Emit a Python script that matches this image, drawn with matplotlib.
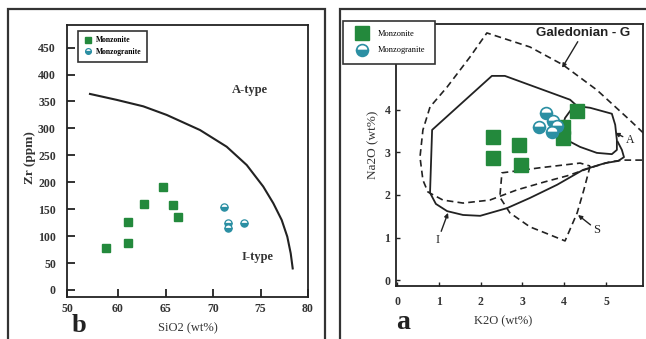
import matplotlib
matplotlib.use("Agg")
import matplotlib.pyplot as plt
from matplotlib.patches import Rectangle

W, H = 646, 339
plt.rcParams['font.family'] = ['Liberation Serif', 'DejaVu Serif']

# ---------------- panel b : Zr vs SiO2 ----------------
monz_sio2 = [58.7, 61.05, 61.05, 62.7, 64.7, 65.8, 66.3]
monz_zr = [78, 87, 126, 159, 191, 157, 135]
mgr_sio2 = [71.2, 71.6, 71.6, 73.3]
mgr_zr = [154, 125, 115, 124]
boundary_sio2 = [57.05, 59.86, 62.66, 65.13, 68.63, 71.44, 73.55, 75.29,
                 76.35, 77.23, 77.82, 78.18, 78.39]
boundary_zr = [364, 353, 341, 325, 297, 266, 232, 192, 161, 130, 99, 68, 40]
zr_ticks = [0, 50, 100, 150, 200, 250, 300, 350, 400, 450]
sio2_tick_values = [54.63, 60, 65, 70, 75, 80]
sio2_tick_labels = ["50", "60", "65", "70", "75", "80"]

# ---------------- panel a : Na2O vs K2O ----------------
monz_k2o = [2.30, 2.30, 2.92, 2.97, 4.31, 3.97, 3.97]
monz_na2o = [3.36, 2.87, 3.18, 2.71, 3.98, 3.60, 3.34]
mgr_k2o = [3.56, 3.73, 3.40, 3.71, 3.83]
mgr_na2o = [3.93, 3.74, 3.60, 3.48, 3.62]

i_k2o = [4.31, 4.14, 2.58, 2.27, 0.84, 0.79, 0.93, 1.20, 1.58, 1.99, 2.63,
         3.18, 3.83, 4.45, 4.98, 5.29, 5.43, 5.38, 5.28]
i_na2o = [4.09, 4.24, 4.80, 4.80, 3.53, 2.05, 1.79, 1.62, 1.53, 1.51, 1.69,
          1.93, 2.24, 2.59, 2.75, 2.80, 2.89, 3.06, 3.25]
a_k2o = [4.31, 4.62, 5.14, 5.22, 5.26, 5.26, 5.14, 4.78, 4.38, 3.97, 3.95,
         4.02, 4.16, 4.31]
a_na2o = [4.09, 4.05, 3.91, 3.65, 3.29, 3.06, 2.96, 2.99, 3.13, 3.34, 3.58,
          3.81, 4.00, 4.09]
g_k2o = [5.89, 5.57, 4.78, 3.97, 3.18, 2.15, 1.75, 1.20, 0.79, 0.62, 0.55,
         0.62, 0.74, 1.10, 1.58, 2.22, 2.87, 3.54, 4.07, 4.69, 5.10, 5.41, 5.89]
g_na2o = [3.46, 3.76, 4.47, 5.06, 5.48, 5.81, 5.25, 4.54, 4.07, 3.53, 2.89,
          2.35, 2.07, 1.88, 1.81, 1.88, 2.12, 2.31, 2.45, 2.66, 2.78, 2.82, 2.82]
s_k2o = [4.62, 4.47, 4.31, 4.02, 3.54, 3.18, 2.70, 2.46, 2.51, 3.42, 4.38, 4.62]
s_na2o = [2.68, 2.12, 1.58, 0.92, 1.11, 1.25, 1.58, 1.95, 2.52, 2.64, 2.75, 2.68]
na2o_ticks = [0, 1, 2, 3, 4]
k2o_ticks = [0, 1, 2, 3, 4, 5]

GREEN = '#23893c'
TEAL = '#2b8fa3'
DARK = '#222222'

fig = plt.figure(figsize=(W / 100, H / 100), dpi=100)


def fbox(l, t, r, b):
    return [l / W, 1 - b / H, (r - l) / W, (b - t) / H]


# outer frames
for (l, t, r, b) in [(8, 9, 325, 360), (340, 9, 680, 360)]:
    fig.add_artist(Rectangle((l / W, 1 - b / H), (r - l) / W, (b - t) / H,
                             transform=fig.transFigure, fill=False,
                             edgecolor='#333333', linewidth=1.6))

# ---------- left axes ----------
axb = fig.add_axes(fbox(67, 25, 308, 297))
axb.plot(boundary_sio2, boundary_zr, color=DARK, lw=1.5)
axb.plot(monz_sio2, monz_zr, 's', color=GREEN, ms=5.8, mec=GREEN,
         label='Monzonite', linestyle='none')
axb.plot(mgr_sio2, mgr_zr, 'o', ms=5.2, fillstyle='bottom', color=TEAL,
         markerfacecoloralt='white', mec=TEAL, mew=0.9, label='Monzogranite',
         linestyle='none')
axb.set_xlim(54.63, 80)
axb.set_ylim(-13, 492)
axb.set_yticks(zr_ticks)
axb.set_xticks(sio2_tick_values)
axb.set_xticklabels(sio2_tick_labels)
axb.tick_params(direction='in', length=6, width=1.3, labelsize=8.5, color=DARK)
axb.tick_params(axis='y', pad=8)
axb.tick_params(axis='x', pad=4)
for lab in axb.get_xticklabels() + axb.get_yticklabels():
    lab.set_fontweight('bold')
    lab.set_color('#333333')
for s in axb.spines.values():
    s.set_linewidth(1.3)
    s.set_color(DARK)
axb.text(73.9, 372, 'A-type', fontsize=9, fontweight='bold', ha='center',
         va='center', color='#333333')
axb.text(74.7, 61, 'I-type', fontsize=9, fontweight='bold', ha='center',
         va='center', color='#333333')
legb = axb.legend(loc='upper left', bbox_to_anchor=(78 / W, 1 - 31 / H),
                  bbox_transform=fig.transFigure, frameon=True,
                  fancybox=False, framealpha=1, edgecolor='#333333',
                  borderpad=0.7, labelspacing=0.5, handlelength=1.2,
                  handletextpad=0.5, borderaxespad=0, markerscale=0.8,
                  prop={'weight': 'bold', 'size': 5.5})
legb.get_frame().set_linewidth(1.2)

fig.text(30 / W, 1 - 158 / H, 'Zr (ppm)', rotation=90, fontsize=9.5,
         fontweight='bold', ha='center', va='center', color='#333333')
fig.text(188 / W, 1 - 328 / H, 'SiO2 (wt%)', fontsize=9, ha='center',
         va='center', color='#333333')
fig.text(79 / W, 1 - 332 / H, 'b', fontsize=19, fontweight='bold',
         ha='center', va='baseline', color='#222222')

# ---------- right axes ----------
axa = fig.add_axes(fbox(396, 24, 643, 286))
axa.plot(g_k2o, g_na2o, color=DARK, lw=1.2, ls=(0, (4, 2.5)))
axa.plot(s_k2o, s_na2o, color=DARK, lw=1.2, ls=(0, (4, 2.5)))
axa.plot(i_k2o, i_na2o, color=DARK, lw=1.3)
axa.plot(a_k2o, a_na2o, color=DARK, lw=1.3)
axa.plot(monz_k2o, monz_na2o, 's', color=GREEN, ms=9.5, mec=GREEN,
         label='Monzonite', linestyle='none')
axa.plot(mgr_k2o, mgr_na2o, 'o', ms=8.5, fillstyle='bottom', color=TEAL,
         markerfacecoloralt='white', mec=TEAL, mew=1.2, label='Monzogranite',
         linestyle='none')
axa.set_xlim(-0.024, 5.885)
axa.set_ylim(-0.14, 6.02)
axa.set_xticks(k2o_ticks)
axa.set_yticks(na2o_ticks)
axa.tick_params(direction='in', length=3, width=1.0, labelsize=8.5, color=DARK)
axa.tick_params(axis='y', pad=4)
axa.tick_params(axis='x', pad=7)
for lab in axa.get_xticklabels() + axa.get_yticklabels():
    lab.set_fontweight('bold')
    lab.set_color('#333333')
for s in axa.spines.values():
    s.set_linewidth(1.3)
    s.set_color(DARK)

ann_kw = dict(arrowprops=dict(arrowstyle='-|>', color=DARK, lw=1.0,
                              mutation_scale=6, shrinkA=0, shrinkB=0),
              color='#222222', ha='center', va='center')
axa.annotate('Galedonian - G', xy=(3.95, 4.99), xytext=(4.45, 5.81),
             fontsize=9.5, fontweight='bold',
             family=['Liberation Sans Narrow', 'Liberation Sans'],
             **ann_kw)
axa.annotate('A', xy=(5.22, 3.46), xytext=(5.57, 3.29), fontsize=8.5, **ann_kw)
axa.annotate('S', xy=(4.33, 1.53), xytext=(4.78, 1.18), fontsize=9, **ann_kw)
axa.annotate('I', xy=(1.22, 1.58), xytext=(0.98, 0.94), fontsize=9, **ann_kw)

lega = axa.legend(loc='upper left', bbox_to_anchor=(343 / W, 1 - 21 / H),
                  bbox_transform=fig.transFigure, frameon=True,
                  fancybox=False, framealpha=1, edgecolor='#333333',
                  borderpad=1.1, labelspacing=1.0, handlelength=2.4,
                  handletextpad=0.7, borderaxespad=0,
                  prop={'size': 6})
lega.get_frame().set_linewidth(1.2)

fig.text(373 / W, 1 - 145 / H, 'Na2O (wt%)', rotation=90, fontsize=9.5,
         ha='center', va='center', color='#333333')
fig.text(503 / W, 1 - 321 / H, 'K2O (wt%)', fontsize=9, ha='center',
         va='center', color='#333333')
fig.text(403 / W, 1 - 329 / H, 'a', fontsize=20, fontweight='bold',
         ha='center', va='baseline', color='#222222')

fig.savefig('out.png', dpi=100)
